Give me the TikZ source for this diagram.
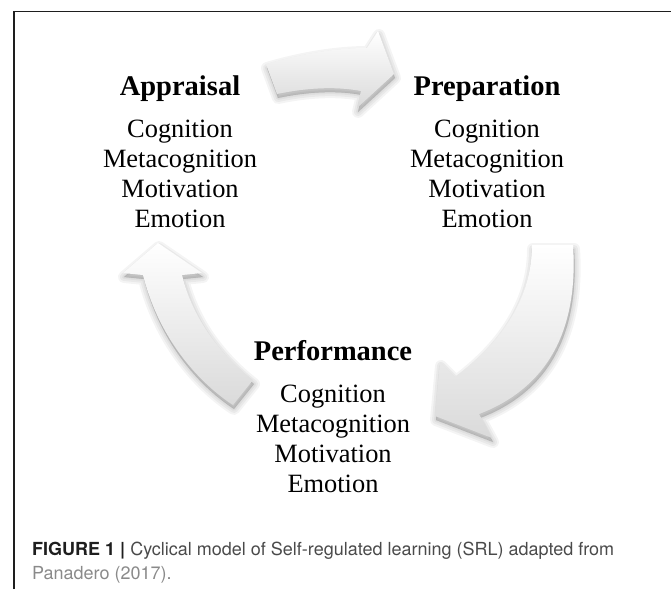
\documentclass[tikz,border=0pt]{standalone}
\usepackage{fontspec}
\setmainfont{Liberation Serif}
\newfontfamily\capfont{TeX Gyre Heros}
\usetikzlibrary{positioning}
\definecolor{cframe}{HTML}{1E1E1E}
\definecolor{ccap}{HTML}{4A4A4A}
\definecolor{clink}{HTML}{8A8A8A}
\definecolor{cshade}{HTML}{DADADA}
\tikzset{
  phase/.style={font=\fontsize{28.5}{30}\selectfont\bfseries, anchor=base, inner sep=0pt},
  item/.style={font=\fontsize{26.4}{30}\selectfont, anchor=base, inner sep=0pt},
  blockarrow/.style={top color=white, bottom color=cshade, draw=none},
  arrowshadow/.style={fill=black, draw=black, opacity=0.045, line join=round, shift={(1,4)}},
  caption/.style={font=\capfont\fontsize{18}{24}\selectfont, anchor=base west, inner sep=0pt, text=ccap},
  frame/.style={draw=cframe, line width=1.3pt},
}
% outlines of the three curved block arrows
\newcommand{\arrowprep}{(266,64) .. controls (300,54) and (335,48) .. (367,48) -- (378,31) -- (394,74)
  -- (357,108) -- (361,91) .. controls (335,86) and (305,88) .. (277,94) -- cycle}
\newcommand{\arrowperf}{(532,245) -- (573,245) .. controls (578,320) and (555,385) .. (479,414) -- (492,438)
  -- (435,416) -- (440,362) -- (455,377) .. controls (505,340) and (532,295) .. (532,245) -- cycle}
\newcommand{\arrowappr}{(158,243) -- (202,273) -- (182,275) .. controls (192,315) and (215,350) .. (253,380)
  -- (233,405) .. controls (195,380) and (158,335) .. (143,275) -- (123,273) -- cycle}

\begin{document}
\begin{tikzpicture}[x=1pt, y=-1pt]
  \useasboundingbox (0,0) rectangle (671,589);
  \draw[frame] (14,589) -- (14,11.5) -- (671,11.5);

  % soft shadows first, then the shaded arrows on top
  \foreach \w in {12,8,4,1} {
    \filldraw[arrowshadow, line width=\w pt] \arrowprep;
    \filldraw[arrowshadow, line width=\w pt] \arrowperf;
    \filldraw[arrowshadow, line width=\w pt] \arrowappr;
  }
  \shade[blockarrow] \arrowprep;
  \shade[blockarrow] \arrowperf;
  \shade[blockarrow] \arrowappr;

  \foreach \name/\x/\y/\title in {appraisal/180/95/Appraisal, preparation/487/95/Preparation,
      performance/333/360/Performance} {
    \node[phase] (\name) at (\x,\y) {\title};
    \foreach \what [count=\i] in {Cognition, Metacognition, Motivation, Emotion}
      \node[item] (\name-\i) at (\x,\y+12+30*\i) {\what};
  }

  \node[caption] (caption) at (32,555) {{\bfseries\color{cframe}FIGURE 1 |} Cyclical model of Self-regulated learning (SRL) adapted from};
  \node[caption, text=clink] (source) at (32,579) {Panadero (2017).};
\end{tikzpicture}
\end{document}
